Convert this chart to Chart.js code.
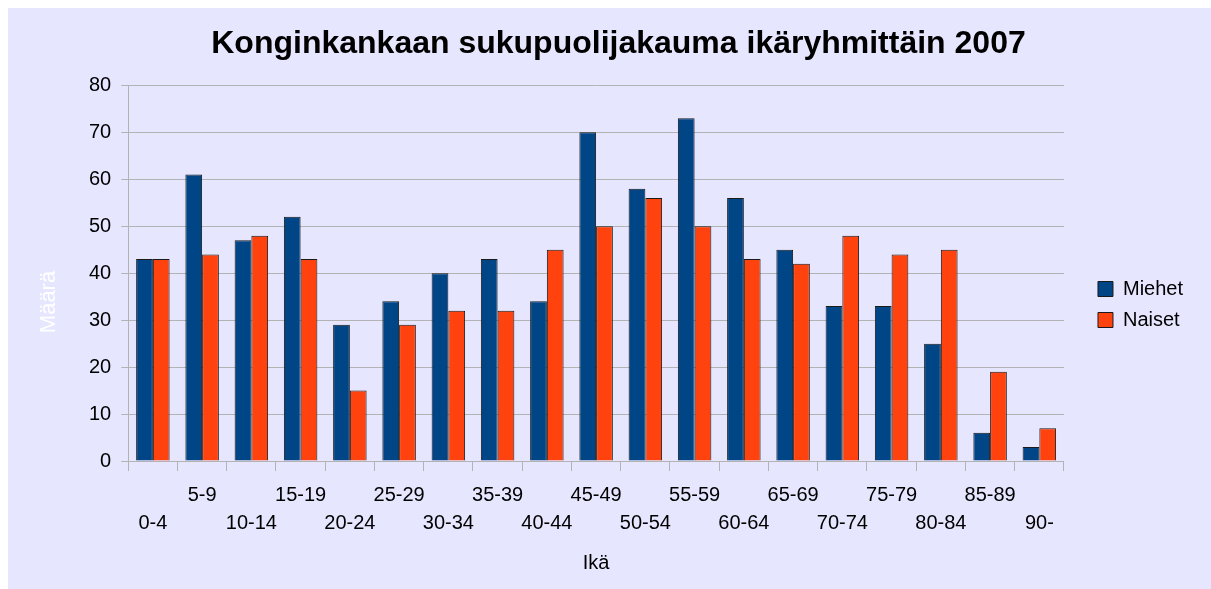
<!DOCTYPE html>
<html>
<head>
<meta charset="utf-8">
<script src="https://cdn.jsdelivr.net/npm/chart.js@4"></script>
<style>
    html, body { margin: 0; padding: 0; background: #ffffff; }
    #wrap { width: 1211px; height: 589px; }
</style>
</head>
<body>
<div id="wrap"><canvas id="chart"></canvas></div>
<script>
// 年龄组
const ageGroups = ['0-4', '5-9', '10-14', '15-19', '20-24', '25-29', '30-34', '35-39', '40-44', '45-49',
    '50-54', '55-59', '60-64', '65-69', '70-74', '75-79', '80-84', '85-89', '90-'];
const miehet = [43, 61, 47, 52, 29, 34, 40, 43, 34, 70, 58, 73, 56, 45, 33, 33, 25, 6, 3];
const naiset = [43, 44, 48, 43, 15, 29, 32, 32, 45, 50, 56, 50, 43, 42, 48, 44, 45, 19, 7];
const yTicks = [0, 10, 20, 30, 40, 50, 60, 70, 80];
const yTitle = 'Määrä';

const font = { family: 'Liberation Sans', size: 20 };
const legendGap = 23;

// 背景
const bgPlugin = {
    id: 'bg',
    beforeDraw(chart) {
        const c = chart.ctx;
        c.save();
        c.fillStyle = '#e6e6ff';
        c.fillRect(8, 8, chart.width - 8, chart.height - 8);
        c.restore();
    },
    afterDraw(chart) {
        // Y轴标题（白色，竖排）
        const c = chart.ctx;
        c.save();
        c.translate(49, 302);
        c.rotate(-Math.PI / 2);
        c.fillStyle = '#ffffff';
        c.font = '22px "Liberation Sans"';
        c.textAlign = 'center';
        c.textBaseline = 'middle';
        c.fillText(yTitle, 0, 0);
        c.restore();
    }
};

// 图例位置微调
const legendGapPlugin = {
    id: 'legendGap',
    beforeInit(chart) {
        const lg = chart.legend;
        const fit = lg.fit;
        lg.fit = function () {
            fit.call(this);
            this.width += legendGap;
        };
    },
    afterLayout(chart) {
        const lg = chart.legend;
        lg.left += legendGap;
        lg.top += 10;
        lg.bottom += 10;
    }
};

new Chart(document.getElementById('chart'), {
    type: 'bar',
    data: {
        labels: ageGroups,
        datasets: [
            { label: 'Miehet', data: miehet, backgroundColor: '#004586', borderColor: '#1a1a1a', borderWidth: 1 },
            { label: 'Naiset', data: naiset, backgroundColor: '#ff420e', borderColor: '#1a1a1a', borderWidth: 1 }
        ]
    },
    plugins: [bgPlugin, legendGapPlugin],
    options: {
        responsive: true,
        maintainAspectRatio: false,
        animation: false,
        layout: { padding: { left: 44, right: 18, top: 10, bottom: 10 } },
        datasets: { bar: { barPercentage: 1, categoryPercentage: 0.68 } },
        plugins: {
            title: {
                display: true,
                text: 'Konginkankaan sukupuolijakauma ikäryhmittäin 2007',
                color: '#000',
                font: { family: 'Liberation Sans', size: 32, weight: 'bold' },
                padding: { top: 15, bottom: 22 }
            },
            legend: {
                position: 'right',
                labels: {
                    color: '#000',
                    font,
                    boxWidth: 15,
                    boxHeight: 15,
                    padding: 11
                }
            },
            tooltip: { enabled: false }
        },
        scales: {
            x: {
                grid: { offset: true, drawOnChartArea: false, color: '#b3b3b3', tickLength: 10 },
                border: { color: '#b3b3b3' },
                ticks: {
                    color: '#000',
                    font: { family: 'Liberation Sans', size: 20, lineHeight: 1.4 },
                    maxRotation: 0,
                    autoSkip: false,
                    padding: 10,
                    callback: (v, i) => i % 2 ? [ageGroups[i], ''] : ['', ageGroups[i]]
                },
                title: { display: true, text: 'Ikä', color: '#000', font, padding: { top: 4 } }
            },
            y: {
                min: 0,
                max: 80,
                afterBuildTicks: axis => { axis.ticks = yTicks.map(v => ({ value: v })); },
                afterFit: axis => { axis.width += 35; },
                grid: { color: '#b3b3b3', tickLength: 7 },
                border: { color: '#b3b3b3' },
                ticks: { color: '#000', font, padding: 10 }
            }
        }
    }
});
</script>
</body>
</html>
